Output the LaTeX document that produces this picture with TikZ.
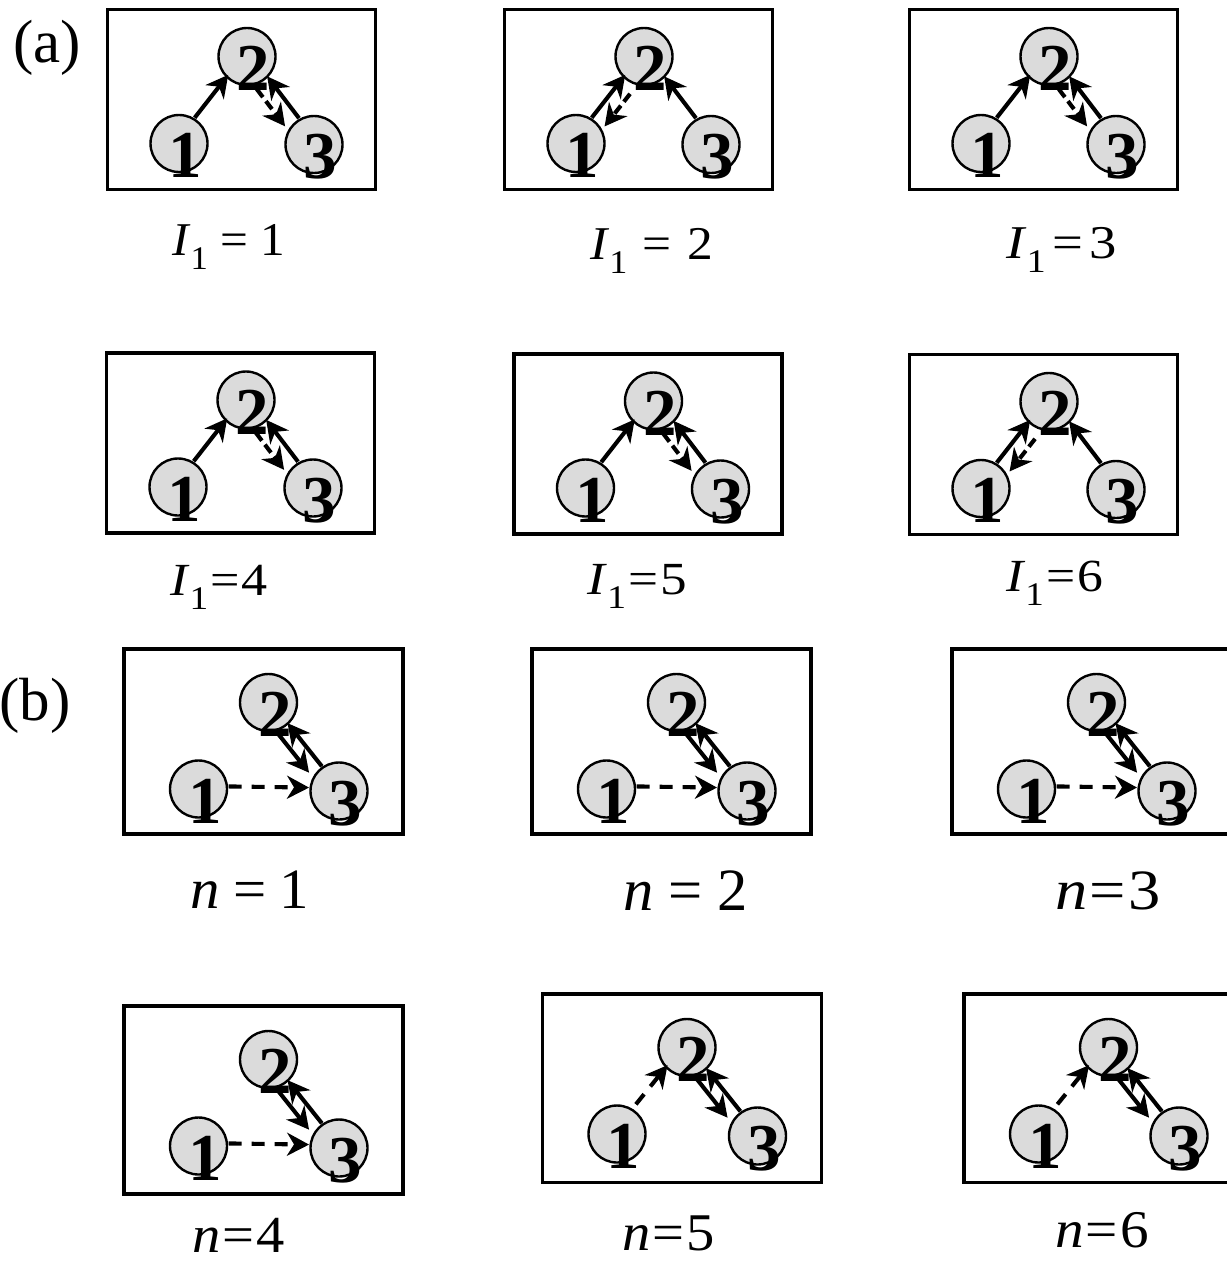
\documentclass[tikz,border=0pt]{standalone}
\usepackage{fontspec}
\usepackage{graphicx}
\setmainfont{Liberation Serif}
\usetikzlibrary{calc,arrows.meta}
\tikzset{
  box/.style={line width=3.5pt},
  nd/.style={circle, draw, line width=2.4pt, fill=gray!28, minimum size=57pt, inner sep=0pt},
  dg/.style={font=\fontsize{67pt}{67pt}\selectfont\bfseries, anchor=base, inner sep=0pt},
  sarr/.style={line width=4.1pt, -{Stealth[length=22pt,width=23pt,inset=7pt]}},
  darr/.style={sarr, dash pattern=on 10pt off 5pt},
  darrB/.style={sarr, dash pattern=on 13pt off 10pt},
  lbl/.style={anchor=base, inner sep=0pt},
  tag/.style={anchor=base west, inner sep=0pt, font=\fontsize{61pt}{61pt}\selectfont}
}
\newcommand{\lnk}[6]{\draw[#1] ($(#2)!#5pt!(#3)!#4pt!90:(#3)$) -- ($(#3)!#6pt!(#2)!#4pt!-90:(#2)$);}
\newcommand{\Ilab}[2]{{\itshape I}\kern2pt\raisebox{-14pt}{\fontsize{33pt}{33pt}\selectfont 1}\hspace{#1}=\hspace{#1}#2}
\newcommand{\nlab}[2]{{\itshape n}\hspace{#1}=\hspace{#1}#2}
% panel of type (a): #1 prefix, #2 x, #3 y, #4 variant
\newcommand{\panelA}[4]{%
  \draw[box] (#2,#3) rectangle ++(268,180);
  \node[nd] (#1n1) at (#2+71.5,#3+134) {};
  \node[nd] (#1n2) at (#2+139.5,#3+47) {};
  \node[nd] (#1n3) at (#2+206.5,#3+135) {};
  \node[dg] (#1d1) at (#2+78,#3+168) {1};
  \node[dg] (#1d2) at (#2+146,#3+81) {2};
  \node[dg] (#1d3) at (#2+213,#3+169) {3};
  \lnk{sarr}{#1n1}{#1n2}{3.5}{30}{26}
  \lnk{sarr}{#1n3}{#1n2}{-4}{30}{28}
  \ifnum#4=1
    \lnk{darr}{#1n2}{#1n3}{-12}{32}{32}
  \else
    \lnk{darr}{#1n2}{#1n1}{12}{38}{31}
  \fi
}
% panel of type (b)
\newcommand{\panelB}[5]{%
  \draw[box] (#2,#3) rectangle ++(279,#5);
  \node[nd] (#1n1) at (#2+74.5,#3+140) {};
  \node[nd] (#1n2) at (#2+144.5,#3+53.5) {};
  \node[nd] (#1n3) at (#2+215,#3+142) {};
  \node[dg] (#1d1) at (#2+81,#3+174) {1};
  \node[dg] (#1d2) at (#2+151,#3+87.5) {2};
  \node[dg] (#1d3) at (#2+221.5,#3+176) {3};
  \lnk{sarr}{#1n2}{#1n3}{-12}{28}{33}
  \lnk{sarr}{#1n3}{#1n2}{-2}{30}{28}
  \ifnum#4=1
    \lnk{darrB}{#1n1}{#1n3}{3}{30}{30}
  \else
    \lnk{darrB}{#1n1}{#1n2}{4}{35}{26}
  \fi
}
\begin{document}
\begin{tikzpicture}[x=1pt,y=-1pt]
\useasboundingbox (0,0) rectangle (1226,1263);
\node[tag] (ta) at (13,63) {(a)};
\node[tag] (tb) at (-1,720) {(b)};
\panelA{a1}{107.5}{9.5}{1}
\panelA{a2}{504.5}{9.5}{2}
\panelA{a3}{909.5}{9.5}{1}
\panelA{a4}{106.5}{353}{1}
\panelA{a5}{514}{354}{1}
\panelA{a6}{909.5}{354.5}{2}
\panelB{b1}{124}{649}{1}{185}
\panelB{b2}{532}{649}{1}{185}
\panelB{b3}{952}{649}{1}{185}
\panelB{b4}{124}{1006}{1}{188}
\panelB{b5}{542.5}{994}{2}{188.5}
\panelB{b6}{964}{994}{2}{188.5}
\node[lbl] (la1) at (228.5,255) {\resizebox{113pt}{\height}{\fontsize{47pt}{47pt}\selectfont\Ilab{0.25em}{1}}};
\node[lbl] (la2) at (651.5,259) {\resizebox{123pt}{\height}{\fontsize{47pt}{47pt}\selectfont\Ilab{0.3em}{2}}};
\node[lbl] (la3) at (1061.5,258) {\resizebox{111pt}{\height}{\fontsize{47pt}{47pt}\selectfont\Ilab{0.12em}{3}}};
\node[lbl] (la4) at (219,595) {\resizebox{98pt}{\height}{\fontsize{46pt}{46pt}\selectfont\Ilab{0.04em}{4}}};
\node[lbl] (la5) at (637,594) {\resizebox{100pt}{\height}{\fontsize{46pt}{46pt}\selectfont\Ilab{0.04em}{5}}};
\node[lbl] (la6) at (1054.5,591) {\resizebox{97pt}{\height}{\fontsize{46pt}{46pt}\selectfont\Ilab{0.04em}{6}}};
\node[lbl] (lb1) at (250,908) {\resizebox{118pt}{\height}{\fontsize{57pt}{57pt}\selectfont\nlab{0.22em}{1}}};
\node[lbl] (lb2) at (685.5,910) {\resizebox{125pt}{\height}{\fontsize{60pt}{60pt}\selectfont\nlab{0.25em}{2}}};
\node[lbl] (lb3) at (1108,909) {\resizebox{106pt}{\height}{\fontsize{57pt}{57pt}\selectfont\nlab{0.04em}{3}}};
\node[lbl] (lb4) at (238.5,1252) {\resizebox{93pt}{\height}{\fontsize{52pt}{52pt}\selectfont\nlab{0.04em}{4}}};
\node[lbl] (lb5) at (668.5,1250) {\resizebox{93pt}{\height}{\fontsize{53pt}{53pt}\selectfont\nlab{0.04em}{5}}};
\node[lbl] (lb6) at (1102,1247) {\resizebox{94pt}{\height}{\fontsize{53pt}{53pt}\selectfont\nlab{0.04em}{6}}};
\end{tikzpicture}
\end{document}
